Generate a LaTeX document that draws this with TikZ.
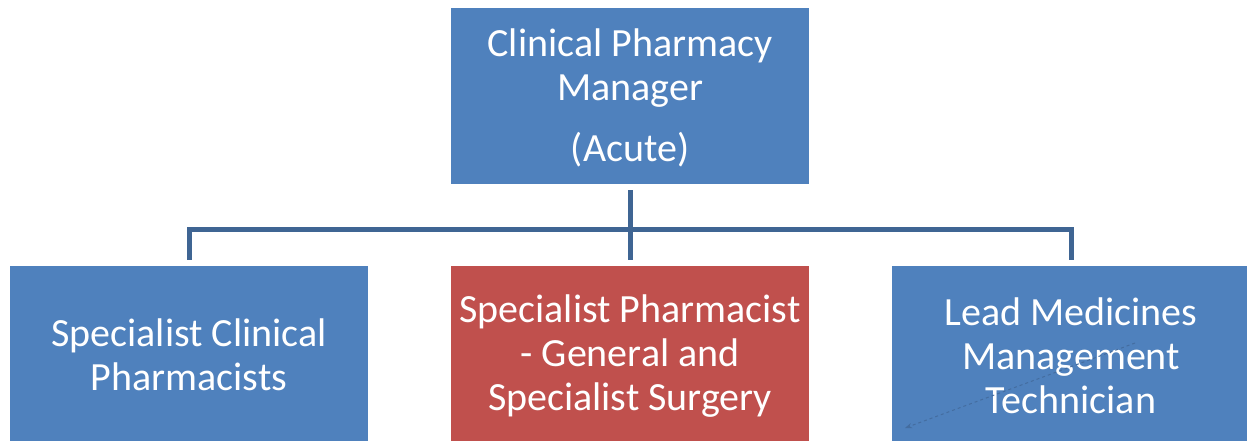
\documentclass[tikz,border=0pt]{standalone}
\usepackage{fontspec}
\setmainfont{Carlito}
\usetikzlibrary{arrows.meta}
\definecolor{boxblue}{HTML}{4F81BD}
\definecolor{boxred}{HTML}{C0504D}
\definecolor{linecol}{HTML}{3F6593}
\begin{document}
\begin{tikzpicture}[x=1pt,y=-1pt,
  box/.style={fill=boxblue, draw=none, inner sep=0pt, align=center, text=white,
    font=\fontsize{40}{44}\selectfont},
  conn/.style={draw=linecol, line width=5pt},
]
\useasboundingbox (0,0) rectangle (1247,441);
\fill[white] (0,0) rectangle (1247,441);
\begin{scope}
\clip (0,0) rectangle (1247,441);
\node[box, minimum width=358pt, minimum height=176pt] (top) at (630,96) {};
\node[box, fill=none] (toptext) at (630,97.5)
  {Clinical Pharmacy\\Manager\\[17pt](Acute)};
\node[box, minimum width=358pt, minimum height=190pt] (left) at (189,361) {};
\node[box, minimum width=358pt, minimum height=190pt, fill=boxred] (mid) at (630,361) {};
\node[box, minimum width=358pt, minimum height=190pt] (right) at (1071,361) {};
\node[box, fill=none] (lefttext) at (189,355) {Specialist Clinical\\Pharmacists};
\node[box, fill=none] (midtext) at (630,356) {Specialist Pharmacist\\- General and\\Specialist Surgery};
\node[box, fill=none] (righttext) at (1071,356) {Lead Medicines\\Management\\Technician};
\end{scope}
\coordinate (j) at (630,229);
\draw[conn, shorten <=6pt, shorten >=6pt] (top.south) -- (mid.north);
\draw[conn, shorten <=6pt, shorten >=6pt] (left.north) |- (j) -| (right.north);
\coordinate (dashA) at (1135,343);
\coordinate (dashB) at (905,428);
\draw[draw=linecol!70!boxblue, dashed, line width=1pt, -{Stealth[length=7pt]}] (dashA) -- (dashB);
\end{tikzpicture}
\end{document}
